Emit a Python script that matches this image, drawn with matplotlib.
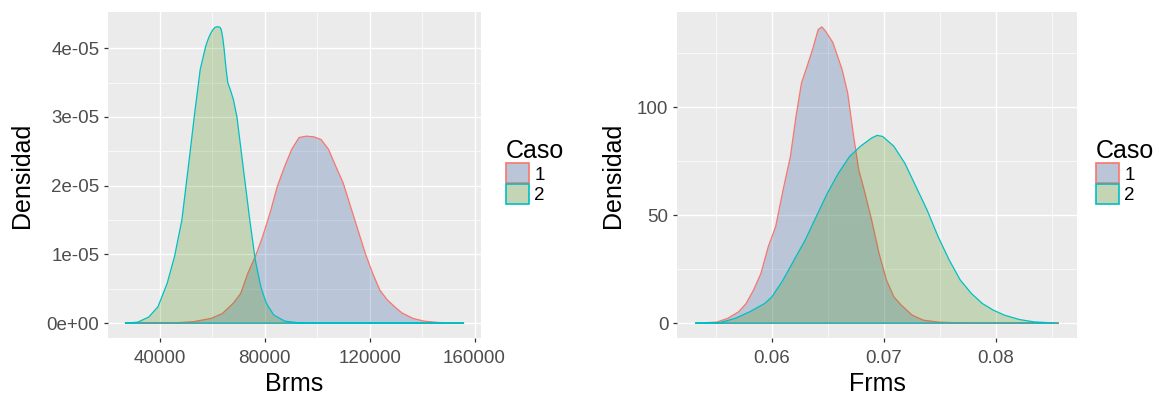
import matplotlib
matplotlib.use("Agg")
import matplotlib.pyplot as plt
from matplotlib.patches import Patch
from matplotlib.ticker import FixedLocator, FixedFormatter

plt.rcParams['font.family'] = ['Liberation Sans', 'DejaVu Sans']

# ---------------- data ----------------
cases = ["1", "2"]

brms_x_1 = [26700, 45600, 52600, 59600, 63800, 68000, 70800, 73600, 76400, 79200, 82000,
            84800, 87600, 90300, 93100, 95900, 98700, 101500, 104300, 107100, 109900,
            112700, 115500, 118300, 121100, 123900, 126700, 129500, 132300, 136500,
            140700, 146300, 156000]
brms_y_1 = [0, 0.005e-5, 0.02e-5, 0.07e-5, 0.14e-5, 0.29e-5, 0.43e-5, 0.73e-5, 0.97e-5,
            1.26e-5, 1.60e-5, 1.99e-5, 2.28e-5, 2.53e-5, 2.70e-5, 2.72e-5, 2.71e-5, 2.67e-5,
            2.53e-5, 2.28e-5, 2.04e-5, 1.70e-5, 1.36e-5, 1.02e-5, 0.73e-5, 0.48e-5, 0.34e-5,
            0.24e-5, 0.15e-5, 0.07e-5, 0.03e-5, 0.01e-5, 0]

brms_x_2 = [26700, 31600, 35800, 39300, 42800, 45600, 48400, 51200, 53300, 55400, 57500,
            58600, 59600, 60300, 61000, 61700, 62400, 63000, 63400, 64000, 64500, 65200,
            65900, 67000, 68000, 69400, 70800, 72200, 74300, 76400, 78500, 80600, 83400,
            87600, 93100, 156000]
brms_y_2 = [0, 0.015e-5, 0.09e-5, 0.24e-5, 0.58e-5, 0.97e-5, 1.50e-5, 2.38e-5, 3.06e-5,
            3.69e-5, 4.03e-5, 4.15e-5, 4.23e-5, 4.27e-5, 4.30e-5, 4.31e-5, 4.31e-5, 4.30e-5,
            4.27e-5, 4.15e-5, 3.99e-5, 3.72e-5, 3.50e-5, 3.38e-5, 3.26e-5, 3.00e-5, 2.57e-5,
            2.14e-5, 1.50e-5, 0.92e-5, 0.53e-5, 0.29e-5, 0.12e-5, 0.03e-5, 0.005e-5, 0]

frms_x_1 = [0.05314, 0.05505, 0.05604, 0.05703, 0.05769, 0.05835, 0.05901, 0.05967, 0.06033,
            0.06099, 0.06165, 0.06215, 0.06264, 0.06314, 0.06363, 0.06413, 0.06446, 0.06479,
            0.06545, 0.06627, 0.06677, 0.06726, 0.06776, 0.06825, 0.06891, 0.06957, 0.07023,
            0.07090, 0.07155, 0.07254, 0.07353, 0.07485, 0.07750, 0.08564]
frms_y_1 = [0, 0.5, 2.2, 5.3, 9.1, 15.3, 23, 35.4, 44.7, 61.6, 77.2, 95.8, 111.3, 119, 126.8,
            136, 137.3, 135.3, 130, 117.5, 106.7, 88, 71, 61.6, 47.8, 32.4, 20, 12.2, 8.4,
            3.7, 1.4, 0.5, 0, 0]

frms_x_2 = [0.05314, 0.05538, 0.05670, 0.05802, 0.05934, 0.06000, 0.06099, 0.06198, 0.06297,
            0.06396, 0.06495, 0.06594, 0.06693, 0.06792, 0.06891, 0.06940, 0.06990, 0.07089,
            0.07188, 0.07287, 0.07386, 0.07485, 0.07584, 0.07683, 0.07782, 0.07881, 0.07980,
            0.08079, 0.08211, 0.08343, 0.08564]
frms_y_2 = [0, 0.3, 2.2, 5.3, 9.1, 12.2, 20, 29.3, 38.5, 49.4, 60.2, 69.5, 77.2, 82.0, 85.8,
            87, 86.5, 82, 74.1, 63.3, 52.5, 40.1, 29.3, 20, 13.8, 9.1, 6.0, 3.7, 1.7, 0.6, 0]

brms_xticks = [40000, 80000, 120000, 160000]
brms_xticklabels = ["40000", "80000", "120000", "160000"]
brms_xminor = [60000, 100000, 140000]
brms_yticks = [0, 1e-5, 2e-5, 3e-5, 4e-5]
brms_yticklabels = ["0e+00", "1e-05", "2e-05", "3e-05", "4e-05"]
brms_yminor = [0.5e-5, 1.5e-5, 2.5e-5, 3.5e-5]

frms_xticks = [0.06, 0.07, 0.08]
frms_xticklabels = ["0.06", "0.07", "0.08"]
frms_xminor = [0.055, 0.065, 0.075, 0.085]
frms_yticks = [0, 50, 100]
frms_yticklabels = ["0", "50", "100"]
frms_yminor = [25, 75, 125]

# ---------------- styles ----------------
FILL = {"1": (12/255, 67/255, 144/255, 0.22), "2": (58/255, 135/255, 0/255, 0.22)}
KEYFILL = {"1": "#BAC6D7", "2": "#C4D5B6"}
LINE = {"1": "#F8766D", "2": "#00BFC4"}
PANEL_BG = "#EBEBEB"

fig = plt.figure(figsize=(11.59, 3.96), dpi=100)
W, H = 1159, 396


def px_axes(x0, x1, y0, y1):
    return fig.add_axes([x0 / W, 1 - y1 / H, (x1 - x0) / W, (y1 - y0) / H])


def draw_panel(ax, series, xticks, xtl, xminor, yticks, ytl, yminor, xlabel, leg_x):
    allx = [v for s in series for v in s[1]]
    ally = [v for s in series for v in s[2]]
    xr = max(allx) - min(allx)
    ax.set_xlim(min(allx) - 0.05 * xr, max(allx) + 0.05 * xr)
    ymax = max(ally)
    ax.set_ylim(-0.05 * ymax, ymax * 1.05)
    ax.set_facecolor(PANEL_BG)
    for sp in ax.spines.values():
        sp.set_visible(False)
    ax.xaxis.set_major_locator(FixedLocator(xticks))
    ax.xaxis.set_major_formatter(FixedFormatter(xtl))
    ax.xaxis.set_minor_locator(FixedLocator(xminor))
    ax.yaxis.set_major_locator(FixedLocator(yticks))
    ax.yaxis.set_major_formatter(FixedFormatter(ytl))
    ax.yaxis.set_minor_locator(FixedLocator(yminor))
    ax.grid(which="major", color="white", linewidth=1.0)
    ax.grid(which="minor", color="white", linewidth=0.5)
    ax.set_axisbelow(True)
    ax.tick_params(which="major", length=3.2, width=0.9, color="#333333",
                   labelcolor="#4D4D4D", labelsize=13.5, pad=3)
    ax.tick_params(axis="x", which="major", pad=5.5)
    ax.tick_params(which="minor", length=0)
    for name, xs, ys in series:
        ax.fill(xs, ys, facecolor=FILL[name], edgecolor=LINE[name], linewidth=0.9,
                zorder=2)
    ax.set_xlabel(xlabel, fontsize=18, labelpad=3.5)
    ax.set_ylabel("Densidad", fontsize=18, labelpad=9)
    handles = [Patch(facecolor=KEYFILL[c], edgecolor=LINE[c], linewidth=1.2) for c in cases]
    leg = ax.legend(handles, cases, title="Caso", loc="upper left",
                    bbox_to_anchor=(leg_x / W, 1 - 139 / H),
                    bbox_transform=fig.transFigure, frameon=False, fontsize=13.5,
                    title_fontsize=18, handlelength=1.2, handleheight=1.3,
                    labelspacing=0.0, handletextpad=0.3, borderpad=0,
                    borderaxespad=0, alignment="left")
    return leg


ax1 = px_axes(108, 481, 12, 338)
draw_panel(ax1, [("1", brms_x_1, brms_y_1), ("2", brms_x_2, brms_y_2)],
           brms_xticks, brms_xticklabels, brms_xminor,
           brms_yticks, brms_yticklabels, brms_yminor, "Brms", 506)

ax2 = px_axes(677, 1077, 12, 338)
draw_panel(ax2, [("1", frms_x_1, frms_y_1), ("2", frms_x_2, frms_y_2)],
           frms_xticks, frms_xticklabels, frms_xminor,
           frms_yticks, frms_yticklabels, frms_yminor, "Frms", 1096)

fig.savefig("out.png", dpi=100, facecolor="white")
